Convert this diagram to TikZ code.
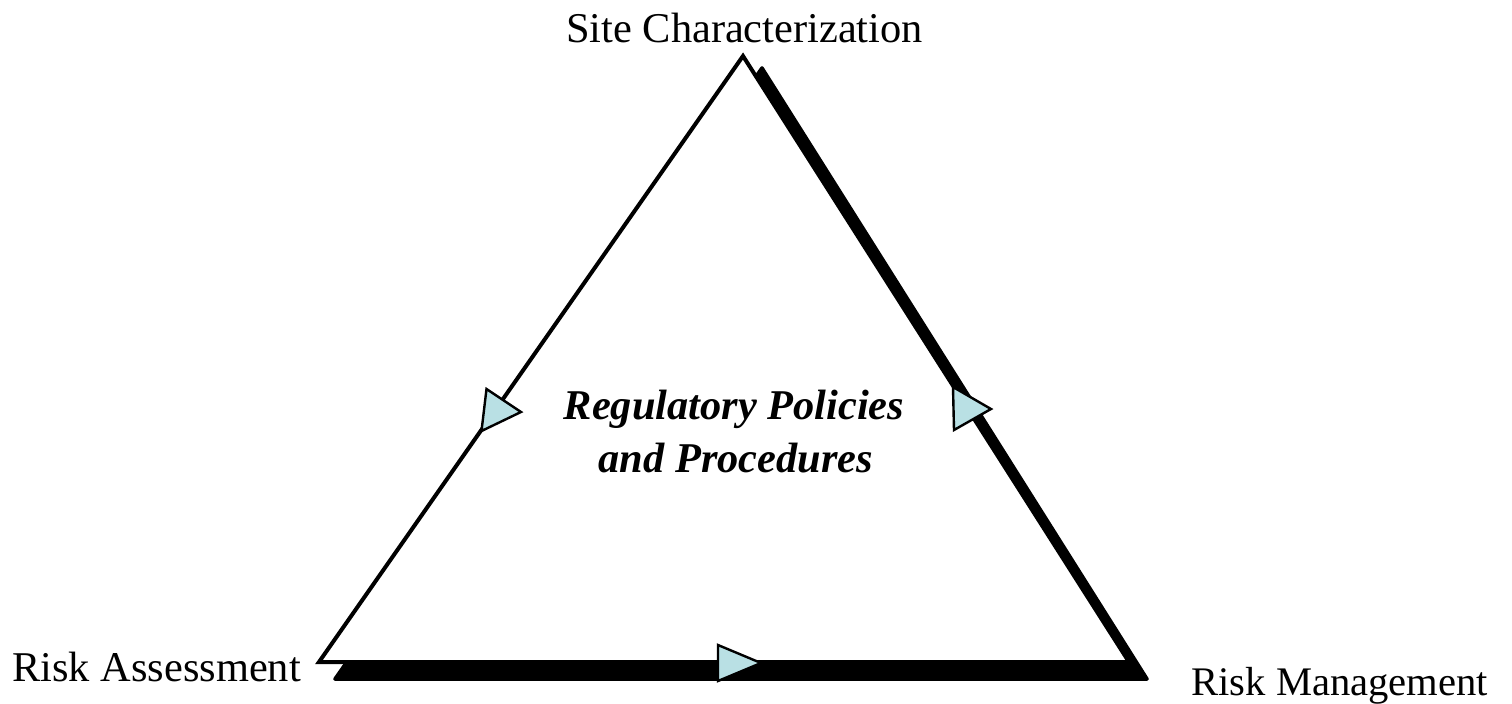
\documentclass[tikz,border=0pt]{standalone}
\usepackage{fontspec}
\setmainfont{Liberation Serif}
\definecolor{arrowfill}{RGB}{185,224,228}
\begin{document}
\begin{tikzpicture}[x=0.5pt,y=-0.5pt,
  label/.style={inner sep=0pt,font=\fontsize{21.2}{25}\selectfont},
  center/.style={inner sep=0pt,font=\fontsize{21.2}{25}\selectfont\bfseries\itshape},
  edge/.style={draw=black,line width=2pt,line join=miter},
  shadowedge/.style={draw=black,fill=black,line width=1.8pt,line join=round},
  flowmark/.style={draw=black,fill=arrowfill,line width=1.2pt,line join=miter}]
\useasboundingbox (0,0) rectangle (1512,703);
% vertices
\coordinate (top) at (743,56);
\coordinate (bl) at (319,662);
\coordinate (br) at (1129,662);
% shadow vertices
\coordinate (stop) at (762,68);
\coordinate (sbl) at (335,679);
\coordinate (sbr) at (1147,679);
% shadow
\draw[shadowedge] (stop) -- (sbr) -- (sbl) -- cycle;
% main triangle
\filldraw[edge,fill=white] (top) -- (br) -- (bl) -- cycle;
% flow markers
\draw[flowmark] (486.5,389) -- (521,412) -- (481.5,431) -- cycle;
\draw[flowmark] (953,387) -- (991,409) -- (954,430) -- cycle;
\draw[flowmark] (718,645) -- (761,663) -- (718,681) -- cycle;
% labels
\node[label,anchor=base] (sc) at (744.5,42) {Site Characterization};
\node[label,anchor=base west] (ra) at (12,681) {Risk Assessment};
\node[label,anchor=base west,font=\fontsize{20.3}{24}\selectfont] (rm) at (1191,695) {Risk Management};
\node[center,anchor=base] (c1) at (734,419) {Regulatory Policies};
\node[center,anchor=base] (c2) at (736,472) {and Procedures};
\end{tikzpicture}
\end{document}
